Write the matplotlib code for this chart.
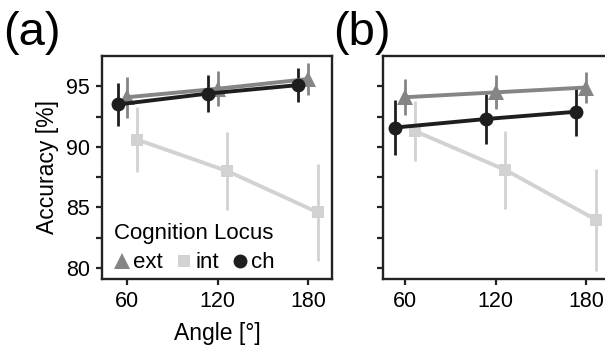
import numpy as np
import matplotlib.pyplot as plt
from matplotlib.lines import Line2D

plt.rcParams['font.family'] = ['Liberation Sans', 'DejaVu Sans']

angles = np.array([60, 120, 180])
groups = ["ext", "int", "ch"]

# panel (a)
a_mean = {"ext": [94.1, 94.8, 95.6], "int": [90.6, 88.0, 84.6], "ch": [93.5, 94.4, 95.1]}
a_err = {"ext": [1.7, 1.45, 1.35], "int": [2.7, 3.2, 4.0], "ch": [1.8, 1.5, 1.4]}
# panel (b)
b_mean = {"ext": [94.1, 94.5, 94.9], "int": [91.3, 88.1, 84.0], "ch": [91.6, 92.3, 92.9]}
b_err = {"ext": [1.5, 1.4, 1.3], "int": [2.5, 3.2, 4.2], "ch": [2.3, 2.1, 2.0]}

colors = {"ext": "#858585", "int": "#d2d2d2", "ch": "#1e1e1e"}
markers = {"ext": "^", "int": "s", "ch": "o"}
msize = {"ext": 11, "int": 9, "ch": 10}
offset = {"ext": 0.0, "int": 6.5, "ch": -6.5}
draw_order = ["int", "ext", "ch"]

fig = plt.figure(figsize=(6.05, 3.49), dpi=100)
ax_a = fig.add_axes([102 / 605, 70 / 349, 230 / 605, 223 / 349])
ax_b = fig.add_axes([383 / 605, 70 / 349, 230 / 605, 223 / 349])


def draw_panel(ax, means, errs, xlim):
    for g in draw_order:
        x = angles + offset[g]
        ax.errorbar(x, means[g], yerr=errs[g], color=colors[g], lw=2.8,
                    elinewidth=2.0, capsize=4, capthick=2.0,
                    marker=markers[g], ms=msize[g], mec=colors[g], mew=0)
    ax.set_xlim(*xlim)
    ax.set_ylim(79.1, 97.5)
    ax.set_xticks(angles)
    ax.set_yticks([80, 82.5, 85, 87.5, 90, 92.5, 95])
    for s in ax.spines.values():
        s.set_linewidth(1.7)
        s.set_color("#222222")
    ax.tick_params(width=1.6, length=4.5, pad=4, labelsize=15.5, color="#222222")


draw_panel(ax_a, a_mean, a_err, (43.1, 196))
draw_panel(ax_b, b_mean, b_err, (45.2, 198))

ax_a.set_yticklabels(["80", "", "85", "", "90", "", "95"])
ax_b.set_yticklabels([])
ax_a.set_ylabel("Accuracy [%]", fontsize=16.5, labelpad=5)
ax_a.set_xlabel("Angle [°]", fontsize=16.5, labelpad=7)

handles = [Line2D([], [], ls="none", marker=markers[g], ms=msize[g],
                  color=colors[g], mew=0) for g in groups]
leg = ax_a.legend(handles, groups, ncol=3, loc="lower left",
                  title="Cognition Locus", frameon=False, fontsize=16,
                  title_fontsize=16, handlelength=0.7, handletextpad=0.15,
                  columnspacing=0.6, borderaxespad=0.2, borderpad=0.05,
                  labelspacing=0.4, alignment="left", bbox_to_anchor=(0.03, 0.0))

fig.text(3 / 605, 1 - 45 / 349, "(a)", fontsize=34, va="baseline")
fig.text(333 / 605, 1 - 45 / 349, "(b)", fontsize=34, va="baseline")

fig.savefig("out.png", dpi=100)
